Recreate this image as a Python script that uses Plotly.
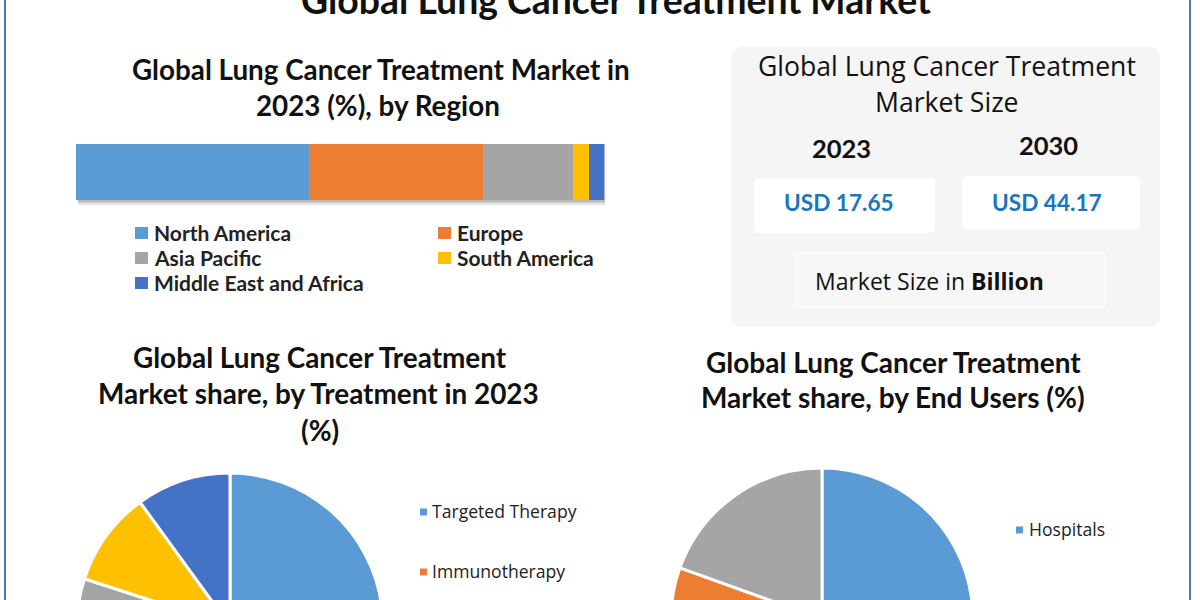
import plotly.graph_objects as go

# --- data ---
region_names = ["North America", "Europe", "Asia Pacific", "South America", "Middle East and Africa"]
region_share = [44, 33, 17, 3, 3]
treatment_names = ["Targeted Therapy", "Immunotherapy"]
treatment_share = [46, 24, 10, 10, 10]
end_user_names = ["Hospitals"]
end_user_share = [68, 12.5, 19.5]
size_years = ["2023", "2030"]
size_values = ["USD 17.65", "USD 44.17"]

colors = ["#5B9BD5", "#ED7D31", "#A5A5A5", "#FFC000", "#4472C4"]

# figure is taller than the window, the pies run off the bottom like in the original
W = 1200
H = 800
FONT = "Lato"


def px(x):
    return x / W


def py(y):
    return 1 - y / H


def text(x, y, s, size=26, color="#111111", family=FONT, anchor="center"):
    return dict(x=px(x), y=py(y), xref="paper", yref="paper", text=s, showarrow=False,
                xanchor=anchor, yanchor="middle", align="center",
                font=dict(family=family, size=size, color=color))


def box(x0, y0, x1, y1, color, line="rgba(0,0,0,0)"):
    return dict(type="rect", xref="paper", yref="paper", x0=px(x0), x1=px(x1), y0=py(y0), y1=py(y1),
                fillcolor=color, line=dict(color=line, width=1), layer="below")


def rounded(x0, y0, x1, y1, r, color):
    rx = r / W
    ry = r / H
    a, b, c, d = px(x0), px(x1), py(y0), py(y1)
    path = (f"M {a + rx} {c} L {b - rx} {c} Q {b} {c} {b} {c - ry} L {b} {d + ry} Q {b} {d} {b - rx} {d} "
            f"L {a + rx} {d} Q {a} {d} {a} {d + ry} L {a} {c - ry} Q {a} {c} {a + rx} {c} Z")
    return dict(type="path", xref="paper", yref="paper", path=path, fillcolor=color,
                line=dict(width=0), layer="below")


fig = go.Figure()

# stacked region bar
for name, val, col in zip(region_names, region_share, colors):
    fig.add_trace(go.Bar(x=[val], y=["share"], name=name, orientation="h",
                         marker=dict(color=col, line=dict(width=0)), showlegend=False))

# pies, rotation 0 and clockwise so the first slice starts at 12 o'clock
fig.add_trace(go.Pie(values=treatment_share, sort=False, direction="clockwise", rotation=0,
                     marker=dict(colors=colors, line=dict(color="white", width=3)),
                     textinfo="none", showlegend=False,
                     domain=dict(x=[px(77), px(383)], y=[py(779), py(473)])))
fig.add_trace(go.Pie(values=end_user_share, sort=False, direction="clockwise", rotation=0,
                     marker=dict(colors=colors, line=dict(color="white", width=3)),
                     textinfo="none", showlegend=False,
                     domain=dict(x=[px(671), px(973)], y=[py(770), py(468)])))

shapes = [
    # side rules of the frame
    box(4, -5, 6, H + 5, "#4A7EAD"),
    box(1189, -5, 1191, H + 5, "#4A7EAD"),
    # soft shadow under the bar
    box(78, 200, 605, 205, "rgba(130,130,130,0.22)"),
    box(78, 200, 605, 202.5, "rgba(110,110,110,0.35)"),
    # market size card
    rounded(731, 47, 1160, 327, 12, "#F5F5F5"),
    rounded(754, 178, 935, 233, 6, "#FFFFFF"),
    rounded(962, 176, 1140, 229, 6, "#FFFFFF"),
    box(796, 253, 1105, 307, "#F7F7F7", line="#FFFFFF"),
]

notes = [
    text(616, -1, "<b>Global Lung Cancer Treatment Market</b>", size=37.4),
    text(380.5, 69.5, "<b>Global Lung Cancer Treatment Market in</b>", size=27.8),
    text(378, 105.5, "<b>2023 (%), by Region</b>", size=27.8),
    text(319.5, 357, "<b>Global Lung Cancer Treatment</b>", size=27.9),
    text(318.5, 393, "<b>Market share, by Treatment in 2023</b>", size=27.9),
    text(320, 430, "<b>(%)</b>", size=27.9),
    text(893, 361.5, "<b>Global Lung Cancer Treatment</b>", size=28),
    text(893, 397.5, "<b>Market share, by End Users (%)</b>", size=28),
    text(947, 66, "Global Lung Cancer Treatment", size=26.6, family="Open Sans"),
    text(947, 102, "Market Size", size=26.6, family="Open Sans"),
    text(841, 148, f"<b>{size_years[0]}</b>", size=25.5),
    text(1048, 145, f"<b>{size_years[1]}</b>", size=25.5),
    text(839, 203, f"<b>{size_values[0]}</b>", size=22.6, color="#1B75BB"),
    text(1047, 203, f"<b>{size_values[1]}</b>", size=22.6, color="#1B75BB"),
    text(813, 281, "Market Size in <b>Billion</b>", size=23, family="Open Sans", anchor="left"),
]

# region legend
legend_pos = [(135, 233), (438, 233), (135, 258), (438, 258), (135, 283)]
for name, col, (lx, ly) in zip(region_names, colors, legend_pos):
    shapes.append(box(lx, ly - 6, lx + 13, ly + 6, col))
    notes.append(text(lx + 17, ly - 0.5, f"<b>{name}</b>", size=21, color="#222222", anchor="left"))

# pie legends, only the entries still inside the picture
for name, col, (lx, ly) in zip(treatment_names, colors, [(420, 512), (420, 572)]):
    shapes.append(box(lx, ly - 3.5, lx + 7, ly + 3.5, col))
    notes.append(text(lx + 10, ly - 1, name, size=17.6, color="#222222", family="Open Sans", anchor="left"))
for name, col, (lx, ly) in zip(end_user_names, colors, [(1016, 530)]):
    shapes.append(box(lx, ly - 3.5, lx + 7, ly + 3.5, col))
    notes.append(text(lx + 11, ly - 1, name, size=17.6, color="#222222", family="Open Sans", anchor="left"))

fig.update_layout(
    width=W, height=H, barmode="stack", bargap=0,
    margin=dict(l=0, r=0, t=0, b=0),
    paper_bgcolor="white", plot_bgcolor="rgba(0,0,0,0)",
    shapes=shapes, annotations=notes,
    xaxis=dict(domain=[px(76), px(604.5)], range=[0, 100], visible=False),
    yaxis=dict(domain=[py(200), py(144)], visible=False),
)

fig.write_html("out.html", config=dict(displayModeBar=False),
               post_script="document.body.style.margin='0';document.body.style.overflow='hidden';")
